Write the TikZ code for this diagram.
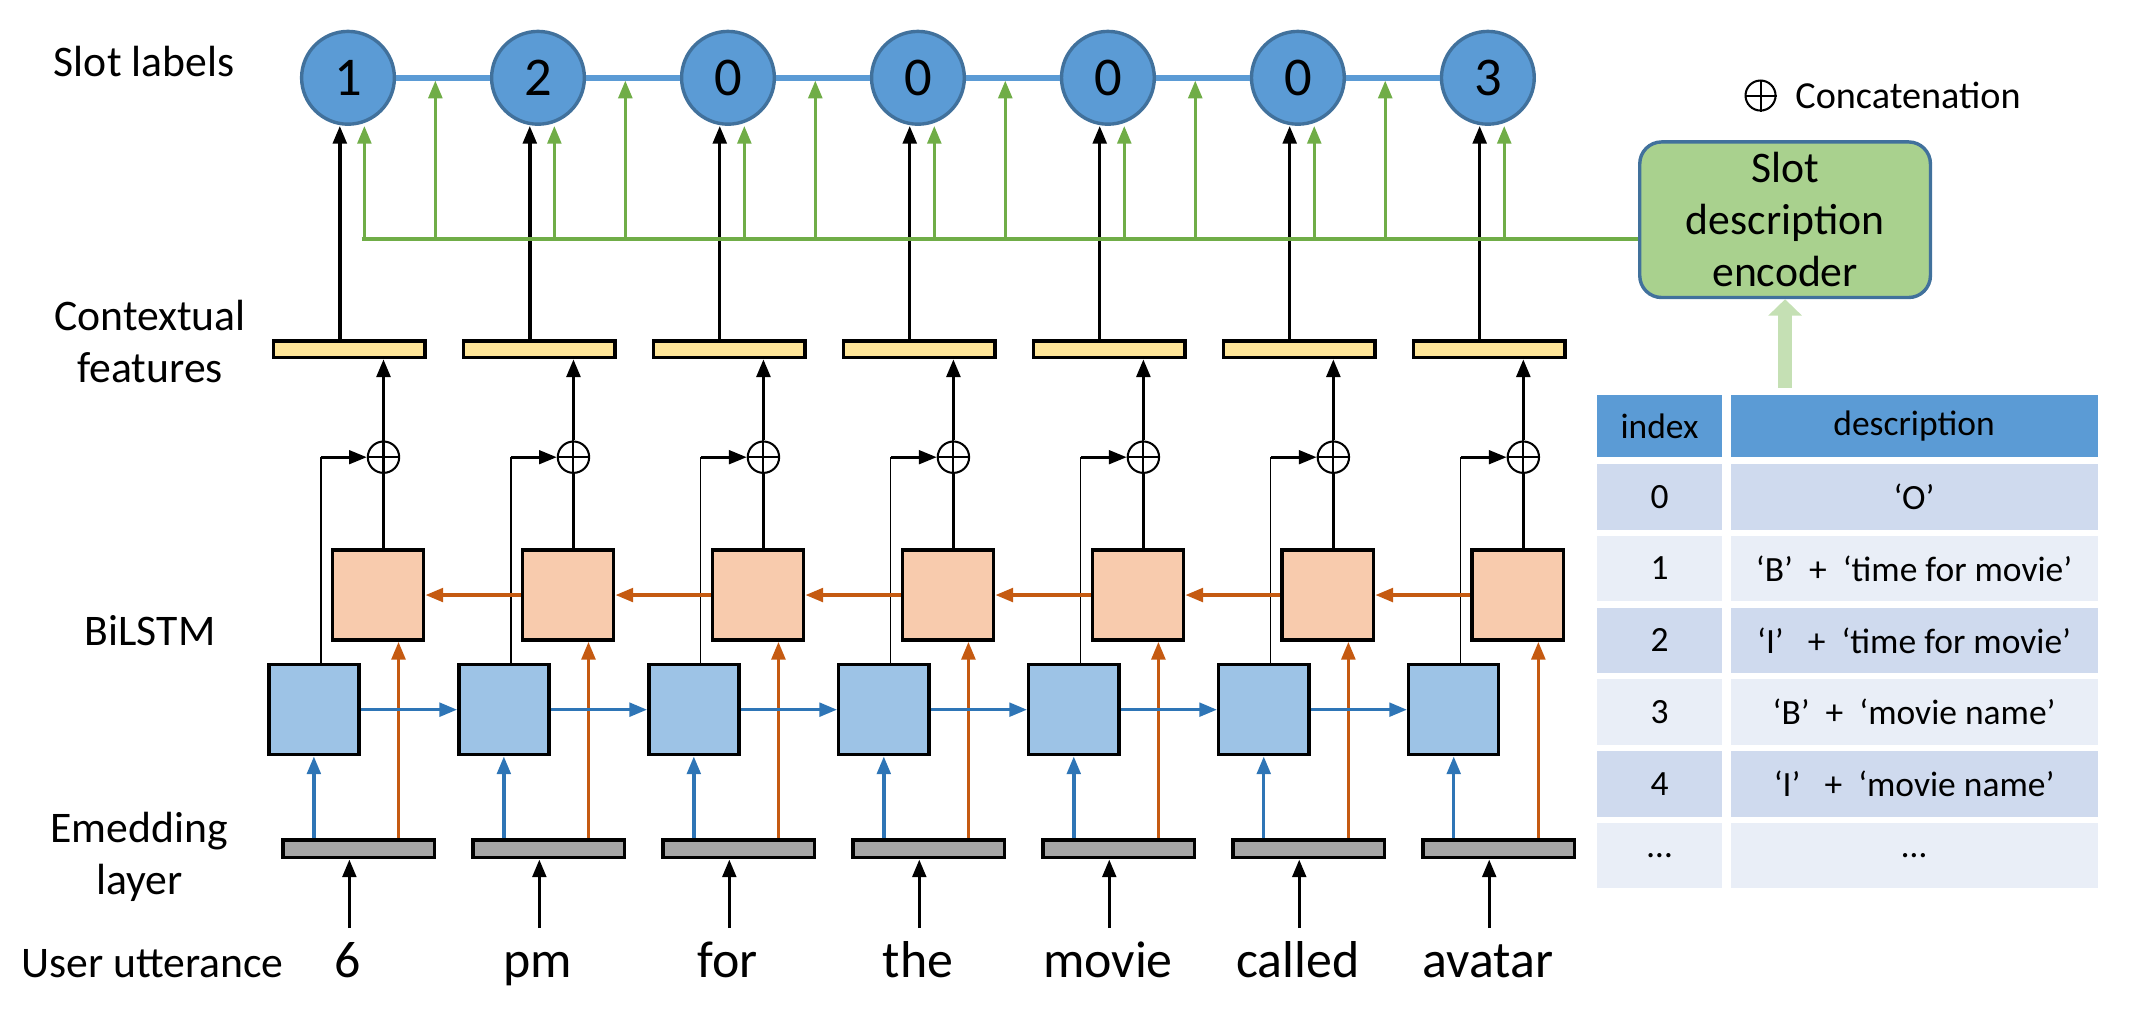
\documentclass[tikz,border=0pt]{standalone}
\usepackage{fontspec}
\setmainfont{Carlito}
\usetikzlibrary{arrows.meta}
\definecolor{cblue}{HTML}{5B9BD5}
\definecolor{cborder}{HTML}{41719C}
\definecolor{corange}{HTML}{F8CBAD}
\definecolor{clblue}{HTML}{9DC3E6}
\definecolor{cyellow}{HTML}{FFE699}
\definecolor{cgray}{HTML}{A5A5A5}
\definecolor{aorange}{HTML}{C55A11}
\definecolor{ablue}{HTML}{2E75B6}
\definecolor{agreen}{HTML}{70AD47}
\definecolor{encgreen}{HTML}{A9D18E}
\definecolor{paleg}{HTML}{C5E0B4}
\definecolor{rowa}{HTML}{CFDAEE}
\definecolor{rowb}{HTML}{E9EEF7}
\tikzset{
  tip/.style={-{Triangle[width=10pt,length=13pt]}},
  label/.style={circle,fill=cblue,draw=cborder,line width=2.5pt,minimum size=68pt,inner sep=0pt,font=\fontsize{40}{40}\selectfont},
  feat/.style={draw=black,line width=2.5pt,fill=cyellow,minimum width=111pt,minimum height=12pt,inner sep=0pt},
  emb/.style={draw=black,line width=2.5pt,fill=cgray,minimum width=111pt,minimum height=13pt,inner sep=0pt},
  bwd/.style={draw=black,line width=2.5pt,fill=corange,minimum width=67pt,minimum height=66pt,inner sep=0pt},
  fwd/.style={draw=black,line width=2.5pt,fill=clblue,minimum width=66pt,minimum height=66pt,inner sep=0pt},
  cat/.style={circle,draw=black,line width=1.5pt,minimum size=23pt,inner sep=0pt},
  word/.style={font=\fontsize{38}{38}\selectfont,anchor=base},
  side/.style={font=\fontsize{32}{38}\selectfont,align=center},
  cell/.style={minimum height=48pt,inner sep=0pt,font=\fontsize{26}{26}\selectfont},
  blk/.style={line width=2.5pt,tip},
}
\begin{document}
\begin{tikzpicture}[x=1pt,y=-1pt]
\useasboundingbox (0,0) rectangle (1560,753);
% left labels
\node[side,anchor=west] (lslot) at (36,45) {Slot labels};
\node[side] (lctx) at (110,250) {Contextual\\features};
\node[side] (lbi) at (110,462) {BiLSTM};
\node[side] (lemb) at (102,628) {Emedding\\layer};
\node[side,anchor=base west] (lutt) at (12,716) {User utterance};
% columns
\foreach \i/\d/\w in {0/1/6,1/2/pm,2/0/for,3/0/the,4/0/movie,5/0/called,6/3/avatar}{
  \pgfmathsetmacro{\cx}{255+139.2*\i}
  \node[label] (c\i) at (\cx,57) {\d};
  \node[feat] (f\i) at (\cx+1,256) {};
  \node[cat] (p\i) at (\cx+26,335) {};
  \draw[line width=1.5pt] (p\i.north)--(p\i.south) (p\i.west)--(p\i.east);
  \node[bwd] (o\i) at (\cx+22,436) {};
  \node[fwd] (b\i) at (\cx-25,520) {};
  \node[emb] (g\i) at (\cx+8,622) {};
  \node[word] (w\i) at (\cx,716) {\w};
  \coordinate (wt\i) at (\cx+1,680);
  \draw[blk] (wt\i) -- (g\i.south -| wt\i);
  \draw[ablue,line width=2.5pt,tip] (g\i.north -| b\i) -- (b\i.south);
  \coordinate (oc\i) at (\cx+37,0);
  \draw[aorange,line width=2.5pt,tip] (g\i.north -| oc\i) -- (o\i.south -| oc\i);
  \draw[line width=2.5pt] (o\i.north -| p\i) -- (p\i.south);
  \draw[blk] (p\i.north) -- (f\i.south -| p\i);
  \coordinate (k\i) at (\cx-20,335);
  \draw[line width=1.2pt] (b\i.north -| k\i) -- (k\i);
  \draw[line width=2pt,tip] (k\i) -- (p\i.west);
}
\foreach \i in {0,...,6}{
  \draw[blk] ([xshift=-6pt]f\i.north -| c\i) -- ([xshift=-6pt]c\i.south);
}
\foreach \i [evaluate=\i as \j using int(\i+1)] in {0,...,5}{
  \draw[cblue,line width=4pt] (c\i) -- (c\j);
  \draw[ablue,line width=2.5pt,tip] (b\i.east) -- (b\j.west);
  \draw[aorange,line width=2.5pt,tip] (o\j.west) -- (o\i.east);
}
% encoder
\node[draw=cborder,fill=encgreen,line width=2.5pt,rounded corners=16pt,minimum width=213pt,minimum height=114pt,align=center,font=\fontsize{32}{38}\selectfont] (enc) at (1308,161) {Slot\\description\\encoder};
\coordinate (gl) at (265,175);
\draw[agreen,line width=2.5pt] (gl) -- (gl -| enc.west);
\foreach \i in {0,...,6}{
  \pgfmathsetmacro{\cx}{255+139.2*\i}
  \coordinate (gu\i) at (\cx+12,175);
  \draw[agreen,line width=2.5pt,tip] (gu\i) -- (gu\i |- c\i.south);
}
\foreach \i in {0,...,5}{
  \pgfmathsetmacro{\cx}{255+139.2*\i+64}
  \coordinate (gm\i) at (\cx,175);
  \draw[agreen,line width=2.5pt,tip] (gm\i) -- (\cx,59);
}
% legend
\node[cat,minimum size=22pt] (leg) at (1290,70) {};
\draw[line width=1.5pt] (leg.north)--(leg.south) (leg.west)--(leg.east);
\node[anchor=west,font=\fontsize{28}{28}\selectfont] (legt) at (1312,70) {Concatenation};
% table
\foreach \r/\a/\b/\c in {0/0/‘O’/rowa,1/1/‘B’\ \ +\ \ ‘time for movie’/rowb,2/2/‘I’\ \ \ +\ \ ‘time for movie’/rowa,3/3/‘B’\ \ +\ \ ‘movie name’/rowb,4/4/‘I’\ \ \ +\ \ ‘movie name’/rowa,5/…/…/rowb}{
  \pgfmathsetmacro{\y}{364+52.6*\r}
  \node[cell,fill=\c,minimum width=92pt] (ti\r) at (1216,\y) {\a};
  \node[cell,fill=\c,minimum width=269pt] (td\r) at (1402.5,\y) {\b};
}
\node[cell,fill=cblue,minimum width=92pt,minimum height=45pt] (th1) at (1216,312) {index};
\node[cell,fill=cblue,minimum width=269pt,minimum height=45pt] (th2) at (1402.5,312) {description};
\draw[paleg,line width=10pt,-{Triangle[width=24pt,length=12pt]}] (1308,284) -- (enc.south);
\end{tikzpicture}
\end{document}
